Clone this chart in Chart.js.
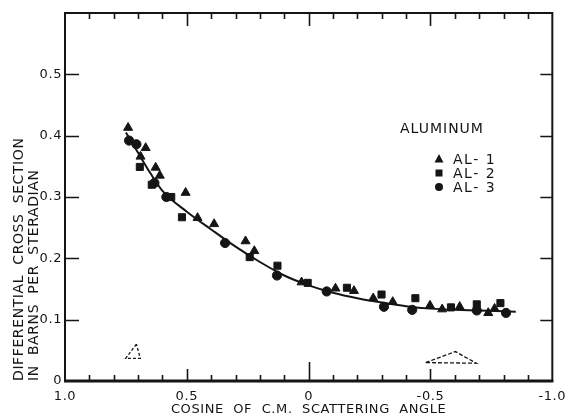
<!DOCTYPE html>
<html>
<head>
<meta charset="utf-8">
<script src="https://cdn.jsdelivr.net/npm/chart.js@4.4.1/dist/chart.umd.min.js"></script>
<style>
html, body { margin: 0; padding: 0; background: #fff; }
#wrap { width: 573px; height: 420px; }
</style>
</head>
<body>
<div id="wrap"><canvas id="chart" width="573" height="420"></canvas></div>
<script>
// AL-1 (triangles)
const al1X = [0.741, 0.669, 0.690, 0.628, 0.611, 0.505, 0.456, 0.388, 0.259, 0.223, 0.029, -0.110, -0.186, -0.265, -0.345, -0.498, -0.548, -0.620, -0.737, -0.763];
const al1Y = [0.413, 0.380, 0.366, 0.348, 0.335, 0.307, 0.266, 0.256, 0.228, 0.212, 0.161, 0.151, 0.147, 0.135, 0.129, 0.123, 0.117, 0.121, 0.111, 0.118];
// AL-2 (squares)
const al2X = [0.693, 0.644, 0.564, 0.520, 0.242, 0.128, 0.004, -0.157, -0.299, -0.438, -0.584, -0.690, -0.787];
const al2Y = [0.349, 0.320, 0.300, 0.267, 0.202, 0.188, 0.160, 0.152, 0.141, 0.135, 0.120, 0.125, 0.127];
// AL-3 (circles)
const al3X = [0.737, 0.707, 0.633, 0.584, 0.343, 0.130, -0.074, -0.309, -0.425, -0.690, -0.810];
const al3Y = [0.392, 0.386, 0.323, 0.300, 0.225, 0.172, 0.146, 0.121, 0.116, 0.115, 0.111];
// fitted curve
const fitX = [0.75, 0.70, 0.65, 0.60, 0.50, 0.40, 0.30, 0.20, 0.10, 0.0, -0.10, -0.20, -0.30, -0.40, -0.50, -0.60, -0.70, -0.85];
const fitY = [0.405, 0.372, 0.339, 0.310, 0.276, 0.247, 0.219, 0.194, 0.172, 0.156, 0.144, 0.135, 0.128, 0.122, 0.118, 0.116, 0.115, 0.113];
// dashed resolution triangles
const resAX = [0.707, 0.751, 0.691, 0.707];
const resAY = [0.060, 0.037, 0.037, 0.060];
const resBX = [-0.480, -0.602, -0.688, -0.480];
const resBY = [0.030, 0.048, 0.029, 0.030];

const xTickLabels = ["1.0", "0.5", "0", "-0.5", "-1.0"];
const yTickLabels = ["0", "0.1", "0.2", "0.3", "0.4", "0.5", ""];
const seriesNames = ["AL- 1", "AL- 2", "AL- 3"];

const ink = "#151515";
const face = "'DejaVu Sans', 'Liberation Sans', sans-serif";

function pts(xs, ys) {
    return xs.map((x, i) => ({ x: x, y: ys[i] }));
}

// frame, inward tick marks and the legend block
const framePlugin = {
    id: "frame",
    beforeDraw(chart) {
        chart.ctx.letterSpacing = "0.6px";
    },
    afterDraw(chart) {
        const { ctx, chartArea: a, scales: { x, y } } = chart;
        ctx.save();
        ctx.strokeStyle = ink;
        ctx.lineWidth = 2;
        ctx.strokeRect(a.left, a.top, a.right - a.left, a.bottom - a.top);
        ctx.lineWidth = 3;
        ctx.beginPath();
        ctx.moveTo(a.left - 1, a.bottom);
        ctx.lineTo(a.right + 1, a.bottom);
        ctx.stroke();

        ctx.lineWidth = 1.6;
        ctx.beginPath();
        x.ticks.forEach((t, i) => {
            if (i === 0 || i === x.ticks.length - 1) return;
            const px = Math.round(x.getPixelForValue(t.value)) + 0.5;
            const major = i % 5 === 0;
            const bottomLen = Math.abs(t.value) < 1e-9 ? 19 : (major ? 12 : 6);
            const topLen = major ? 13 : 6;
            ctx.moveTo(px, a.bottom);
            ctx.lineTo(px, a.bottom - bottomLen);
            ctx.moveTo(px, a.top);
            ctx.lineTo(px, a.top + topLen);
        });
        y.ticks.forEach((t, i) => {
            if (i === 0 || i === y.ticks.length - 1) return;
            const py = Math.round(y.getPixelForValue(t.value)) + 0.5;
            ctx.moveTo(a.left, py);
            ctx.lineTo(a.left + 14, py);
            ctx.moveTo(a.right, py);
            ctx.lineTo(a.right - 12, py);
        });
        ctx.stroke();

        // legend
        ctx.fillStyle = ink;
        ctx.textBaseline = "middle";
        ctx.textAlign = "left";
        ctx.letterSpacing = "1px";
        ctx.font = "14px " + face;
        ctx.fillText("ALUMINUM", 400, 129);
        ctx.letterSpacing = "1.5px";
        const rows = [159, 173, 187];
        const mx = 439;
        rows.forEach((ry, i) => {
            ctx.beginPath();
            if (i === 0) {
                ctx.moveTo(mx, ry - 5);
                ctx.lineTo(mx + 4.5, ry + 3.5);
                ctx.lineTo(mx - 4.5, ry + 3.5);
                ctx.closePath();
            } else if (i === 1) {
                ctx.rect(mx - 3.5, ry - 3.5, 7, 7);
            } else {
                ctx.arc(mx, ry, 4, 0, Math.PI * 2);
            }
            ctx.fill();
            ctx.fillText(seriesNames[i], 453, ry + 1);
        });
        ctx.restore();
    }
};

const markerBase = {
    backgroundColor: ink,
    borderColor: ink,
    borderWidth: 1,
    showLine: false
};

new Chart(document.getElementById("chart").getContext("2d"), {
    type: "scatter",
    data: {
        datasets: [
            {
                label: "fit",
                data: pts(fitX, fitY),
                showLine: true,
                borderColor: ink,
                borderWidth: 2,
                pointRadius: 0,
                cubicInterpolationMode: "monotone",
                order: 5
            },
            Object.assign({ label: seriesNames[0], data: pts(al1X, al1Y), pointStyle: "triangle", pointRadius: 5.2 }, markerBase),
            Object.assign({ label: seriesNames[1], data: pts(al2X, al2Y), pointStyle: "rect", pointRadius: 5 }, markerBase),
            Object.assign({ label: seriesNames[2], data: pts(al3X, al3Y), pointStyle: "circle", pointRadius: 4.6 }, markerBase),
            {
                label: "resA",
                data: pts(resAX, resAY),
                showLine: true,
                borderColor: ink,
                borderWidth: 1.3,
                borderDash: [3, 2],
                pointRadius: 0,
                tension: 0
            },
            {
                label: "resB",
                data: pts(resBX, resBY),
                showLine: true,
                borderColor: ink,
                borderWidth: 1.3,
                borderDash: [4, 2],
                pointRadius: 0,
                tension: 0
            }
        ]
    },
    options: {
        responsive: false,
        animation: false,
        layout: { padding: { top: 13, right: 5, left: 0, bottom: 0 } },
        plugins: {
            legend: { display: false },
            tooltip: { enabled: false }
        },
        scales: {
            x: {
                type: "linear",
                min: -1,
                max: 1,
                reverse: true,
                grid: { display: false, drawTicks: false },
                border: { display: false },
                ticks: {
                    stepSize: 0.1,
                    autoSkip: false,
                    maxRotation: 0,
                    padding: 8,
                    color: ink,
                    font: { family: face, size: 13 },
                    callback: (v, i) => (i % 5 === 0 ? xTickLabels[i / 5] : "")
                },
                title: {
                    display: true,
                    text: "COSINE  OF  C.M.  SCATTERING  ANGLE",
                    color: ink,
                    font: { family: face, size: 13, lineHeight: 1.0 },
                    padding: { top: 0, bottom: 4 }
                },
                afterFit: (scale) => { scale.height = 39; }
            },
            y: {
                type: "linear",
                min: 0,
                max: 0.6,
                grid: { display: false, drawTicks: false },
                border: { display: false },
                ticks: {
                    stepSize: 0.1,
                    padding: 3,
                    color: ink,
                    font: { family: face, size: 13 },
                    callback: (v, i) => yTickLabels[i]
                },
                title: {
                    display: true,
                    text: ["DIFFERENTIAL  CROSS  SECTION", "IN  BARNS  PER  STERADIAN"],
                    align: "start",
                    color: ink,
                    font: { family: face, size: 14, lineHeight: 1.08 },
                    padding: { top: 12, bottom: 0 }
                },
                afterFit: (scale) => { scale.width = 65; }
            }
        }
    },
    plugins: [framePlugin]
});
</script>
</body>
</html>
